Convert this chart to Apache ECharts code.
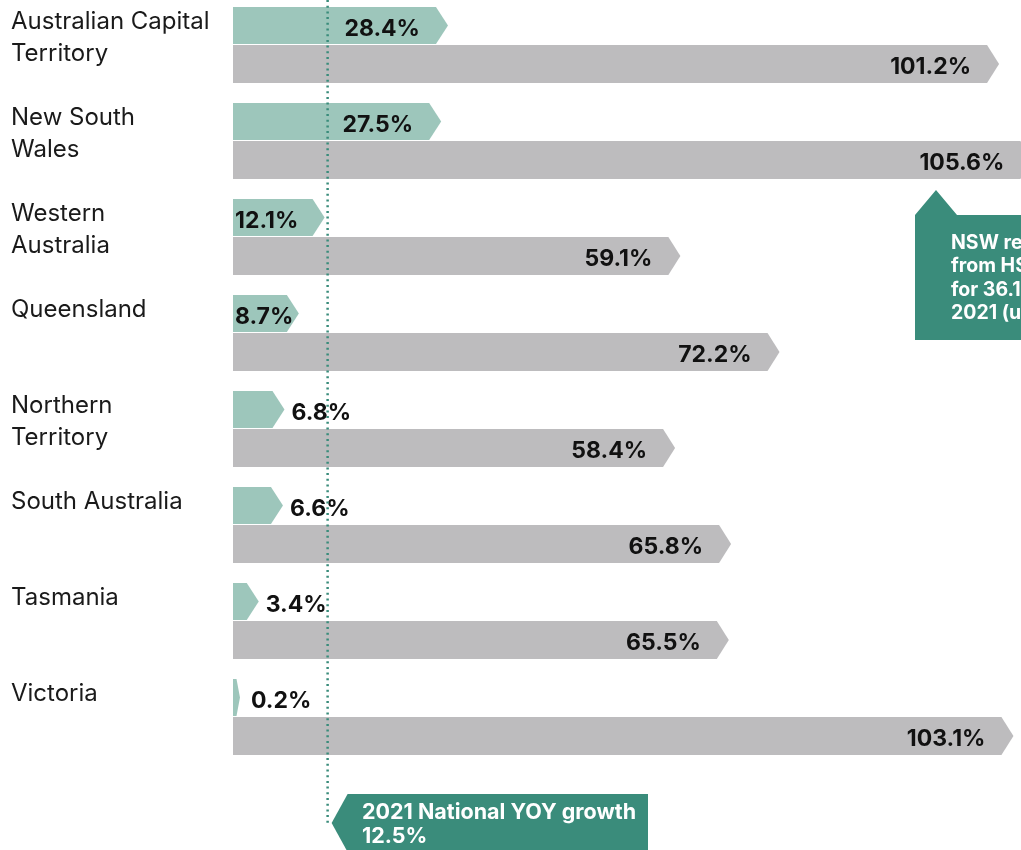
<!DOCTYPE html>
<html>
<head>
<meta charset="utf-8">
<script src="https://cdn.jsdelivr.net/npm/echarts@6/dist/echarts.min.js"></script>
<style>
html,body{margin:0;padding:0;background:#fff;}
#chart{width:1021px;height:850px;}
</style>
</head>
<body>
<div id="chart"></div>
<script>
// ---- data ----
const categories = ['Australian Capital\nTerritory', 'New South\nWales', 'Western\nAustralia', 'Queensland', 'Northern\nTerritory', 'South Australia', 'Tasmania', 'Victoria'];
const growthShort = [28.4, 27.5, 12.1, 8.7, 6.8, 6.6, 3.4, 0.2];
const growthLong = [101.2, 105.6, 59.1, 72.2, 58.4, 65.8, 65.5, 103.1];
const nationalGrowth = 12.5;
const nationalLabel = '2021 National YOY growth';
const nswNote = ['NSW revenue', 'from HSP', 'for 36.1%', '2021 (up'];

// ---- styles ----
const GREEN = '#9dc6bb';
const GRAY = '#bdbcbe';
const TEAL = '#3a8c7b';
const TEXT = '#111111';
const FONT_FAMILY = 'Inter, "Noto Sans", sans-serif';
const LABEL_FONT = 'bold 23px ' + FONT_FAMILY;

const measureCtx = document.createElement('canvas').getContext('2d');
function textWidth(t, font) { measureCtx.font = font; return measureCtx.measureText(t).width; }

function barRenderer(topOff, botOff, color, labelDy) {
  return function (params, api) {
    const v = api.value(0);
    const idx = api.value(1);
    const p0 = api.coord([0, idx]);
    const p1 = api.coord([v, idx]);
    const cy = p0[1];
    const y0 = cy + topOff, y1 = cy + botOff;
    const x0 = p0[0];
    const x1 = Math.max(p1[0], x0 + 7);
    const w = x1 - x0;
    const tip = Math.min(12, w * 0.5);
    const ym = (y0 + y1) / 2;
    const label = v.toFixed(1) + '%';
    const tw = textWidth(label, LABEL_FONT);
    let tx, align;
    if (tw + 30 <= w) { tx = x1 - 28; align = 'right'; }
    else if (tw + 6 <= w) { tx = x0 + 2; align = 'left'; }
    else { tx = x1 + (w < 10 ? 11 : 7); align = 'left'; }
    return {
      type: 'group',
      children: [
        { type: 'polygon', shape: { points: [[x0, y0], [x1 - tip, y0], [x1, ym], [x1 - tip, y1], [x0, y1]] }, style: { fill: color } },
        { type: 'text', style: { text: label, x: tx, y: ym + labelDy, align: align, verticalAlign: 'middle', font: LABEL_FONT, fill: TEXT } }
      ]
    };
  };
}

const chart = echarts.init(document.getElementById('chart'), null, { renderer: 'canvas' });
chart.setOption({
  animation: false,
  backgroundColor: '#ffffff',
  grid: { left: 233, right: 0, top: 0, height: 768, containLabel: false },
  xAxis: { type: 'value', min: 0, max: 104.1, show: false },
  yAxis: { type: 'category', data: categories, inverse: true, show: false },
  series: [
    {
      name: 'Category names', type: 'custom', silent: true,
      data: categories.map((c, i) => [0, i]),
      encode: { x: 0, y: 1 },
      renderItem: function (params, api) {
        const idx = api.value(1);
        const p = api.coord([0, idx]);
        return { type: 'text', style: { text: categories[idx], x: 11, y: p[1] - 42, align: 'left', verticalAlign: 'top', lineHeight: 32, font: '24px ' + FONT_FAMILY, fill: '#1a1a1a' } };
      }
    },
    {
      name: '2021 YOY growth', type: 'custom',
      data: growthShort.map((v, i) => [v, i]),
      encode: { x: 0, y: 1 },
      renderItem: barRenderer(-41, -4, GREEN, 3.5)
    },
    {
      name: 'Long-term growth', type: 'custom',
      data: growthLong.map((v, i) => [v, i]),
      encode: { x: 0, y: 1 },
      renderItem: barRenderer(-3, 35, GRAY, 3.5)
    }
  ]
});

const lx = chart.convertToPixel({ xAxisIndex: 0 }, nationalGrowth);
chart.setOption({
  graphic: [
    { type: 'line', z: 100, shape: { x1: lx, y1: 0, x2: lx, y2: 823 }, style: { stroke: TEAL, lineWidth: 2.5, lineDash: [2, 3.7] } },
    { type: 'polygon', z: 100, shape: { points: [[lx + 4, 823], [lx + 20, 794], [648, 794], [648, 852], [lx + 20, 852]] }, style: { fill: TEAL } },
    { type: 'text', z: 101, style: { text: nationalLabel + '\n' + nationalGrowth.toFixed(1) + '%', x: 362, y: 801, lineHeight: 24, verticalAlign: 'top', align: 'left', font: 'bold 21.5px ' + FONT_FAMILY, fill: '#ffffff' } },
    { type: 'polygon', z: 100, shape: { points: [[915, 215], [936, 190], [957, 215], [1030, 215], [1030, 340], [915, 340]] }, style: { fill: TEAL } },
    { type: 'text', z: 101, style: { text: nswNote.join('\n'), x: 951, y: 231, lineHeight: 23.5, verticalAlign: 'top', align: 'left', font: 'bold 19.5px ' + FONT_FAMILY, fill: '#ffffff' } }
  ]
});
</script>
</body>
</html>
